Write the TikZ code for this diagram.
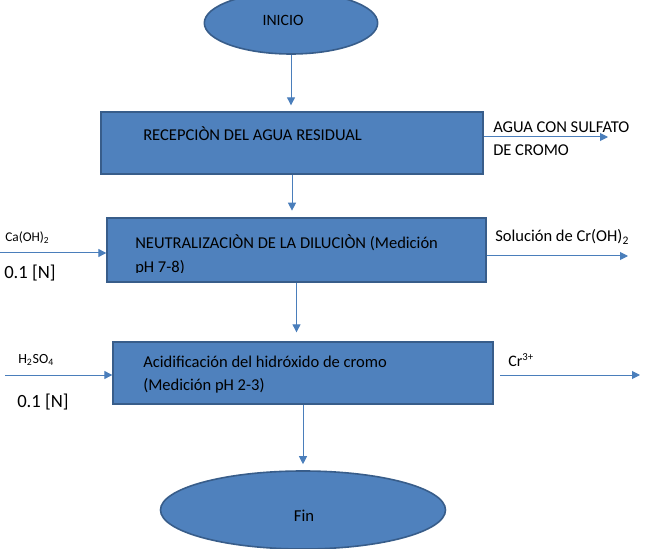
\documentclass[tikz,border=0pt]{standalone}
\usepackage{fontspec}
\setmainfont{Carlito}
\usetikzlibrary{shapes.geometric,arrows.meta}
\definecolor{boxfill}{HTML}{4F81BD}
\definecolor{boxline}{HTML}{385D8A}
\definecolor{arrcol}{HTML}{4A7EBB}
\begin{document}
\begin{tikzpicture}[x=0.75pt,y=-0.75pt,
  procbox/.style={draw=boxline,fill=boxfill,line width=1pt,rectangle,inner sep=0},
  termnode/.style={draw=boxline,fill=boxfill,line width=1.2pt,ellipse,inner sep=0},
  flow/.style={draw=arrcol,line width=0.75pt,-{Triangle[length=6pt,width=6pt]}},
  lbl/.style={inner sep=0,anchor=west,align=left,font=\fontsize{12.4pt}{17.5pt}\selectfont},
  sidelbl/.style={inner sep=0,anchor=west,font=\fontsize{10pt}{12pt}\selectfont},
  biglbl/.style={inner sep=0,anchor=west,font=\fontsize{14pt}{16pt}\selectfont}]
\useasboundingbox (0,0) rectangle (650,549);
% terminals
\node[termnode,minimum width=130pt,minimum height=46.5pt] (inicio) at (291,23) {};
\node[inner sep=0,font=\fontsize{11.8pt}{13pt}\selectfont] (tinicio) at (283,20) {INICIO};
\node[termnode,minimum width=213.75pt,minimum height=58.5pt] (fin) at (303,510) {};
\node[inner sep=0,font=\fontsize{12.5pt}{14pt}\selectfont] (tfin) at (304,516) {Fin};
% process boxes
\node[procbox,minimum width=286.5pt,minimum height=46.5pt] (r1) at (292,143) {};
\node[procbox,minimum width=284.25pt,minimum height=48pt] (r2) at (296.5,250) {};
\node[procbox,minimum width=285pt,minimum height=46.5pt] (r3) at (303,373) {};
% box texts
\node[lbl] (t1) at (143,134) {RECEPCIÒN DEL AGUA RESIDUAL};
\begin{scope}
\clip (108,219) rectangle (485,272);
\node[lbl,font=\fontsize{12.4pt}{18pt}\selectfont] (t2) at (135,255) {NEUTRALIZACIÒN DE LA DILUCIÒN (Medición\\pH 7-8)};
\end{scope}
\node[lbl] (t3) at (143,374.5) {Acidificación del hidróxido de cromo\\(Medición pH 2-3)};
% vertical flow
\draw[flow,shorten >=4.5pt] (inicio.south) -- (inicio.south |- r1.north);
\draw[flow,shorten >=5pt] (r1.south) -- (r1.south |- r2.north);
\draw[flow,shorten >=6.75pt] (r2.south) -- (r2.south |- r3.north);
\draw[flow,shorten >=4.5pt] (r3.south) -- (r3.south |- fin.north);
% side flows
\coordinate (out1) at (608,137);
\draw[flow] (r1.east |- out1) -- (out1);
\coordinate (in2) at (0,253);
\draw[flow] (in2) -- (in2 -| r2.west);
\coordinate (out2) at (628,256);
\draw[flow] (out2 -| r2.east) -- (out2);
\coordinate (in3) at (5,375);
\draw[flow] (in3) -- (in3 -| r3.west);
\coordinate (out3s) at (500,375);
\coordinate (out3) at (640,375);
\draw[flow] (out3s) -- (out3);
% side labels
\node[lbl] (l1) at (493,138.5) {AGUA CON SULFATO\\DE CROMO};
\node[sidelbl] (l2) at (5,238) {Ca(OH)\textsubscript{2}};
\node[biglbl] (l3) at (4,273) {0.1 [N]};
\node[lbl] (l4) at (495,237) {Solución de Cr(OH)\textsubscript{2}};
\node[sidelbl,font=\fontsize{10.5pt}{12pt}\selectfont] (l5) at (18,360) {H\textsubscript{2}SO\textsubscript{4}};
\node[biglbl] (l6) at (17,402) {0.1 [N]};
\node[sidelbl,font=\fontsize{12pt}{14pt}\selectfont] (l7) at (508,360) {Cr\textsuperscript{3+}};
\end{tikzpicture}
\end{document}
